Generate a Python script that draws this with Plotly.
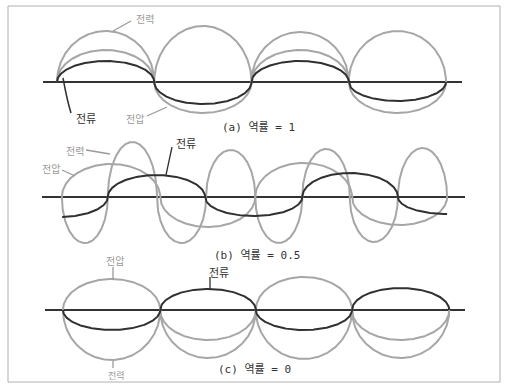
import numpy as np
import plotly.graph_objects as go

W, H = 506, 384

# ---- waveform data: zero crossings (electrical degrees) and the peak of every half-cycle ----
# (a) power factor 1
a_cross = [0, 180, 360, 540, 720]
a_power = [51, 56, 50, 51]
a_voltage = [32, -31, 32, -31]
a_current = [21, -22, 21, -19]

# (b) power factor 0.5
b_power_cross = [9, 94, 185, 276, 367, 454, 542, 631, 722]
b_power = [-46, 55, -46, 47, -46, 48, -45, 49]
b_voltage_cross = [9, 191, 367, 546, 722]
b_voltage = [33, -30, 34, -28]
b_current_cross = [-85, 94, 274, 454, 631, 811]
b_current = [-20, 22, -19, 24, -17]
b_current_span = [9, 724]

# (c) power factor 0
c_cross = [11, 191, 368, 546, 726]
c_voltage = [31, -30, 33, -30]
c_current = [-20, 21, -20, 22]
c_power = [-50, -48, -49, -48]

titles = ["(a) 역률 = 1", "(b) 역률 = 0.5", "(c) 역률 = 0"]

GRAY = "#a6a6a6"
DARK = "#303030"
LABEL_GRAY = "#9a9a9a"

# pixel <-> data helpers for the layout
DEG_PER_PX = 720 / 389.0
X0_PX = 57
def deg(px):
    return (px - X0_PX) * DEG_PER_PX
def px_x(px):
    return px / W
def px_y(py):
    return 1 - py / H

axis_rows = [82, 197, 310]  # baseline of each panel, in px from top


def wave(cross, peaks, span=None, n=140):
    """Half-cycles drawn as elliptical arcs between successive zero crossings."""
    xs, ys = [], []
    for c0, c1, p in zip(cross[:-1], cross[1:], peaks):
        t = np.linspace(0, np.pi, n)
        xs.append(c0 + (c1 - c0) * (1 - np.cos(t)) / 2)
        ys.append(p * np.sin(t))
    x = np.concatenate(xs)
    y = np.concatenate(ys)
    if span is not None:
        m = (x >= span[0]) & (x <= span[1])
        x, y = x[m], y[m]
    return x, y


fig = go.Figure()

def add(cross, peaks, color, width, yaxis, span=None):
    x, y = wave(cross, peaks, span)
    fig.add_trace(go.Scatter(x=x, y=y, mode="lines", yaxis=yaxis,
                             line=dict(color=color, width=width),
                             hoverinfo="skip", showlegend=False))

# baselines
for ax, (l, r) in zip(["y", "y2", "y3"], [(43, 462), (42, 465), (45, 465)]):
    fig.add_trace(go.Scatter(x=[deg(l), deg(r)], y=[0, 0], mode="lines", yaxis=ax,
                             line=dict(color="#333333", width=2),
                             hoverinfo="skip", showlegend=False))

# (a)
add(a_cross, a_power, GRAY, 2, "y")
add(a_cross, a_voltage, GRAY, 2, "y")
add(a_cross, a_current, DARK, 2, "y")
# (b)
add(b_power_cross, b_power, GRAY, 2, "y2")
add(b_voltage_cross, b_voltage, GRAY, 2, "y2")
add(b_current_cross, b_current, DARK, 2, "y2", span=b_current_span)
# (c)
add(c_cross, c_power, GRAY, 2, "y3")
add(c_cross, c_voltage, GRAY, 2, "y3")
add(c_cross, c_current, DARK, 2, "y3")

shapes = []
# frame
shapes.append(dict(type="rect", xref="paper", yref="paper",
                   x0=px_x(8), x1=px_x(500), y0=px_y(382), y1=px_y(6),
                   line=dict(color="#b0b0b0", width=1)))

def leader(x0, y0, x1, y1, color):
    shapes.append(dict(type="line", xref="paper", yref="paper",
                       x0=px_x(x0), y0=px_y(y0), x1=px_x(x1), y1=px_y(y1),
                       line=dict(color=color, width=1.3)))

leader(113, 31, 131, 21, LABEL_GRAY)
shapes.append(dict(type="path", xref="paper", yref="paper",
                   path=f"M {px_x(63)},{px_y(78)} Q {px_x(67)},{px_y(100)} {px_x(71)},{px_y(113)}",
                   line=dict(color=DARK, width=1.5)))
leader(147, 116, 167, 107, LABEL_GRAY)

leader(86, 150, 110, 154, LABEL_GRAY)
leader(62, 170, 75, 176, LABEL_GRAY)
leader(172, 147, 166, 175, DARK)

leader(113, 267, 113, 280, LABEL_GRAY)
leader(210, 277, 210, 289, DARK)
leader(113, 361, 113, 368, LABEL_GRAY)

annotations = []
def label(text, x, y, color, size=10, family="Noto Sans CJK KR"):
    annotations.append(dict(text=text, x=px_x(x), y=px_y(y), xref="paper", yref="paper",
                            showarrow=False, xanchor="center", yanchor="middle",
                            font=dict(family=family, size=size, color=color)))

label("전력", 145, 18, LABEL_GRAY)
label("전류", 86, 118, DARK, 11)
label("전압", 135, 118, LABEL_GRAY)

label("전력", 75, 150, LABEL_GRAY)
label("전압", 51, 168, LABEL_GRAY)
label("전류", 186, 143, DARK, 11)

label("전압", 115, 260, LABEL_GRAY)
label("전류", 219, 272, DARK, 11)
label("전력", 116, 375, LABEL_GRAY, 9)

mono = "DejaVu Sans Mono, Noto Sans CJK KR"
label(titles[0], 258, 127, "#333333", 11, mono)
label(titles[1], 257, 255, "#333333", 11, mono)
label(titles[2], 254, 369, "#333333", 11, mono)

xr = [deg(0), deg(W)]
fig.update_layout(
    width=W, height=H,
    margin=dict(l=0, r=0, t=0, b=0, pad=0),
    paper_bgcolor="white", plot_bgcolor="white",
    xaxis=dict(range=xr, visible=False, fixedrange=True),
    yaxis=dict(range=[axis_rows[0] - H, axis_rows[0]], visible=False, domain=[0, 1]),
    yaxis2=dict(range=[axis_rows[1] - H, axis_rows[1]], visible=False, overlaying="y"),
    yaxis3=dict(range=[axis_rows[2] - H, axis_rows[2]], visible=False, overlaying="y"),
    shapes=shapes, annotations=annotations,
    showlegend=False,
)

fig.write_html("out.html")
